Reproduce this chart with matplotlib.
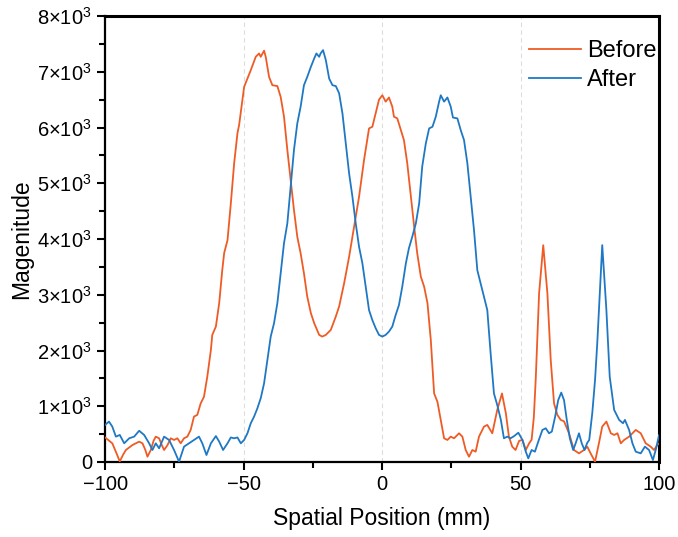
import matplotlib.pyplot as plt
from matplotlib.ticker import MultipleLocator, FuncFormatter

# spatial positions (mm) and magnitudes
x_before = [-100, -97.4, -96.0, -94.7, -93.5, -92.5, -90.1, -87.7, -86.5, -85.5, -84.7, -83.5,
            -82.5, -81.7, -80.5, -79.5, -78.7, -77.5, -76.3, -75.1, -73.9, -72.7, -71.5, -70.3,
            -69.1, -67.9, -66.7, -65.5, -64.3, -63.1, -61.8, -61.3, -60.0, -58.8, -57.7, -57.0,
            -55.8, -54.6, -53.4, -52.2, -51.6, -49.8, -48.6, -47.4, -45.6, -44.4, -43.8, -42.6,
            -42.0, -40.8, -39.6, -37.8, -36.6, -35.4, -34.2, -33.0, -31.8, -30.6, -29.4, -28.2,
            -27.0, -25.7, -24.5, -22.7, -21.6, -20.3, -18.5, -16.7, -15.5, -13.7, -11.9, -10.1,
            -8.3, -6.5, -4.7, -3.5, -2.3, -1.1, 0.1, 1.3, 2.5, 3.7, 4.3, 5.5, 6.8, 7.9, 9.1,
            10.4, 11.6, 12.7, 14.0, 15.2, 16.4, 17.6, 18.8, 20.0, 21.2, 22.4, 23.6, 24.8, 26.0,
            27.8, 29.0, 30.2, 31.4, 32.6, 33.8, 35.0, 36.8, 38.0, 39.8, 41.6, 43.3, 44.7, 45.8,
            47.0, 48.2, 49.5, 50.7, 51.9, 53.1, 54.0, 54.8, 55.5, 56.7, 58.2, 59.7, 60.9, 62.1,
            63.3, 64.5, 65.7, 67.5, 69.3, 71.1, 72.9, 74.1, 75.3, 76.9, 78.3, 79.5, 81.0, 82.6,
            83.8, 85.0, 86.2, 87.4, 89.2, 91.6, 93.4, 95.2, 97.0, 98.2, 99.4, 100]
y_before = [440, 335, 170, 10, 130, 215, 305, 365, 335, 220, 95, 215,
            380, 455, 425, 300, 215, 300, 425, 395, 425, 335, 425, 455,
            575, 815, 845, 1050, 1170, 1530, 2010, 2280, 2430, 2850, 3440, 3750,
            3980, 4640, 5360, 5900, 6050, 6730, 6880, 7030, 7270, 7330, 7270, 7380,
            7270, 6910, 6760, 6745, 6550, 6195, 5600, 5060, 4520, 4040, 3745, 3385,
            2965, 2670, 2490, 2280, 2250, 2280, 2370, 2610, 2790, 3205, 3680, 4220,
            4760, 5420, 5985, 6015, 6255, 6500, 6580, 6465, 6540, 6375, 6195, 6165, 5955, 5775, 5360,
            4760, 4220, 3745, 3325, 3145, 2850, 2190, 1230, 1080, 755, 425, 395, 455, 425,
            515, 455, 215, 95, 215, 185, 455, 635, 665, 515, 935, 1230, 875, 455,
            275, 215, 380, 395, 215, 335, 400, 800, 1500, 3025, 3890, 3025, 1830, 1050,
            845, 755, 730, 515, 215, 155, 215, 275, 155, 5, 335, 635, 725, 515,
            485, 515, 335, 395, 455, 575, 515, 335, 275, 215, 305, 330]

x_after = [-100, -98.6, -97.4, -96.1, -94.7, -93.1, -91.3, -89.5, -87.7, -85.9, -84.1, -82.9,
           -81.7, -80.5, -78.7, -76.9, -75.1, -73.3, -71.5, -69.7, -67.9, -66.1, -64.9, -63.4,
           -61.8, -60.0, -58.8, -57.4, -55.8, -54.6, -53.4, -52.2, -51.0, -49.8, -48.6, -47.4,
           -46.2, -45.0, -43.8, -42.6, -41.4, -40.2, -39.0, -37.8, -36.6, -35.4, -34.2, -33.0,
           -31.8, -30.6, -29.4, -28.2, -27.0, -25.7, -24.5, -23.7, -22.7, -22.2, -21.3, -20.3,
           -19.1, -17.9, -16.7, -15.5, -14.3, -13.1, -11.9, -10.7, -9.5, -8.3, -7.1, -5.9,
           -4.7, -3.5, -2.3, -1.1, 0.1, 1.3, 2.5, 3.7, 4.9, 6.1, 7.3, 8.6, 9.7, 10.9, 12.2,
           13.4, 14.5, 15.8, 17.0, 18.2, 19.4, 20.6, 21.2, 22.4, 23.6, 24.8, 25.6, 27.2, 28.4,
           29.6, 30.8, 32.0, 33.2, 34.4, 35.6, 36.8, 38.0, 39.2, 40.4, 41.6, 42.9, 44.0, 45.2,
           46.4, 47.7, 49.2, 50.7, 51.9, 52.8, 54.0, 55.2, 56.4, 57.9, 59.1, 60.3, 61.3, 62.5,
           63.6, 64.7, 65.7, 66.7, 67.8, 69.0, 69.9, 71.1, 72.1, 73.1, 74.1, 74.8, 75.9, 76.9,
           77.7, 79.5, 81.0, 82.2, 83.8, 85.6, 87.0, 87.7, 89.2, 90.4, 91.6, 93.4, 94.9, 96.4,
           97.8, 98.8, 100]
y_after = [665, 725, 635, 455, 485, 335, 425, 455, 560, 485, 335, 215,
           335, 245, 455, 395, 215, 5, 275, 335, 395, 455, 335, 125,
           335, 465, 365, 215, 335, 440, 425, 440, 335, 395, 515, 695,
           815, 965, 1145, 1410, 1830, 2250, 2490, 2850, 3385, 3925, 4280, 4940,
           5600, 6075, 6375, 6760, 6910, 7090, 7240, 7330, 7270, 7330, 7390, 7210,
           6880, 6760, 6745, 6615, 6255, 5715, 5180, 4760, 4280, 3860, 3565, 3145,
           2725, 2545, 2400, 2280, 2250, 2280, 2340, 2430, 2635, 2815, 3145, 3565, 3835, 4040, 4280,
           4640, 5300, 5715, 5985, 6015, 6195, 6465, 6580, 6465, 6540, 6375, 6180, 6165, 5955,
           5775, 5360, 4760, 4160, 3440, 3205, 2965, 2725, 1950, 1230, 1020, 755, 425, 455,
           425, 465, 525, 395, 185, 65, 215, 185, 365, 575, 605, 515, 545, 815,
           1110, 1245, 1110, 755, 425, 215, 335, 515, 335, 215, 345, 395, 875, 1470,
           2130, 3890, 2725, 1530, 935, 755, 695, 755, 575, 335, 185, 155, 275, 215,
           35, 215, 480]

plt.rcParams['font.family'] = ['Liberation Sans', 'DejaVu Sans']
plt.rcParams['mathtext.fontset'] = 'custom'
plt.rcParams['mathtext.rm'] = 'Liberation Sans'
plt.rcParams['mathtext.it'] = 'Liberation Sans'
plt.rcParams['mathtext.bf'] = 'Liberation Sans'

fig = plt.figure(figsize=(6.78, 5.37), dpi=100)
ax = fig.add_axes([0.155, 0.1397, 0.817, 0.8303])

ax.plot(x_before, y_before, color='#EF5B25', lw=1.3, label='Before', zorder=3)
ax.plot(x_after, y_after, color='#1F78C4', lw=1.3, label='After', zorder=3)

ax.set_xlim(-100, 100)
ax.set_ylim(0, 8000)
ax.xaxis.set_major_locator(MultipleLocator(50))
ax.xaxis.set_minor_locator(MultipleLocator(25))
ax.yaxis.set_major_locator(MultipleLocator(1000))
ax.yaxis.set_minor_locator(MultipleLocator(500))
ax.yaxis.set_major_formatter(FuncFormatter(
    lambda v, p: '0' if v == 0 else '%d×10$^3$' % round(v / 1000)))

for gx in [-50, 0, 50]:
    ax.axvline(gx, color='#DDDDDD', lw=0.8, ls=(0, (4, 3)), zorder=1)

for s in ['left', 'bottom']:
    ax.spines[s].set_linewidth(1.6)
for s in ['top', 'right']:
    ax.spines[s].set_linewidth(2.2)

ax.tick_params(which='major', direction='out', length=6, width=1.5, labelsize=14.5)
ax.tick_params(which='minor', direction='out', length=4, width=1.5)

ax.set_xlabel('Spatial Position (mm)', fontsize=16.5, labelpad=9)
ax.set_ylabel('Magenitude', fontsize=16.5, labelpad=3)

ax.legend(loc='upper right', bbox_to_anchor=(1.013, 0.968), borderaxespad=0,
          frameon=False, fontsize=17, handlelength=2.2,
          handletextpad=0.25, labelspacing=0.3)

fig.savefig('out.png', dpi=100)
